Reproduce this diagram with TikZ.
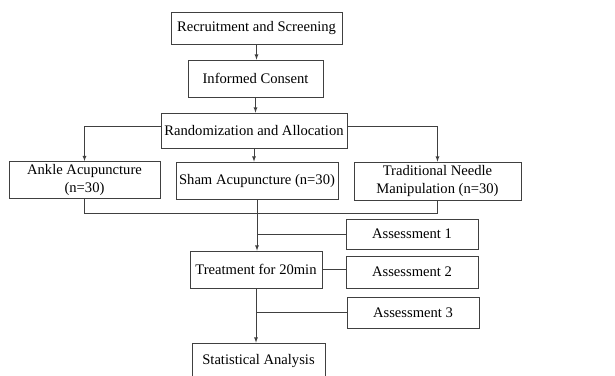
\documentclass[tikz,border=0pt]{standalone}
\usepackage{fontspec}
\setmainfont{Liberation Serif}
\tikzset{
  box/.style={draw=black!75, line width=0.8pt, align=center, inner sep=1pt,
    font=\fontsize{14.6}{17}\selectfont},
  link/.style={draw=black!75, line width=0.8pt}
}
\begin{document}
\begin{tikzpicture}[x=1pt, y=-1pt]
    \useasboundingbox (0,0) rectangle (615,375);
    \node[box, minimum width=171pt, minimum height=32pt] (rec) at (256.5,28) {Recruitment and Screening};
    \node[box, minimum width=135pt, minimum height=37pt] (cons) at (255.5,78.5) {Informed Consent};
    \node[box, minimum width=186pt, minimum height=35pt] (rand) at (254,130.5) {Randomization and Allocation};
    \node[box, minimum width=151pt, minimum height=36pt] (ankle) at (84.5,180) {
      \begin{tabular}{@{}c@{}}
Ankle Acupuncture\\[1pt] (n=30)
      \end{tabular}};
    \node[box, minimum width=162pt, minimum height=37pt] (sham) at (257,180.5) {Sham Acupuncture (n=30)};
    \node[box, minimum width=167pt, minimum height=38pt] (trad) at (437.5,181) {
      \begin{tabular}{@{}c@{}}
Traditional Needle\\[1pt] Manipulation (n=30)
      \end{tabular}};
    \node[box, minimum width=132pt, minimum height=30pt] (ass1) at (412,234) {Assessment 1};
    \node[box, minimum width=132pt, minimum height=37pt] (treat) at (256,269.5) {Treatment for 20min};
    \node[box, minimum width=132pt, minimum height=32pt] (ass2) at (412,272) {Assessment 2};
    \node[box, minimum width=132pt, minimum height=31pt] (ass3) at (413,312.5) {Assessment 3};
    \node[box, minimum width=133pt, minimum height=36pt] (stat) at (258.5,361) {Statistical Analysis};
    \draw[link, -latex] (rec.south) -- (rec.south |- cons.north);
    \draw[link, -latex] (cons.south) -- (cons.south |- rand.north);
    \draw[link, -latex] ([yshift=4pt]rand.west) -| (ankle.north);
    \draw[link, -latex] ([yshift=4pt]rand.east) -| (trad.north);
    \draw[link, -latex] (rand.south) -- (rand.south |- sham.north);
    \draw[link] (ankle.south) |- ++(0,14) coordinate (merge) -| (trad.south);
    \draw[link, -latex] (sham.south) -- (sham.south |- treat.north);
    \draw[link] (sham.south |- ass1.west) -- (ass1.west);
    \draw[link] (treat.east) -- (treat.east -| ass2.west);
    \draw[link, -latex] (treat.south) -- (treat.south |- stat.north);
    \draw[link] (treat.south |- ass3.west) -- (ass3.west);
  \end{tikzpicture}
\end{document}
